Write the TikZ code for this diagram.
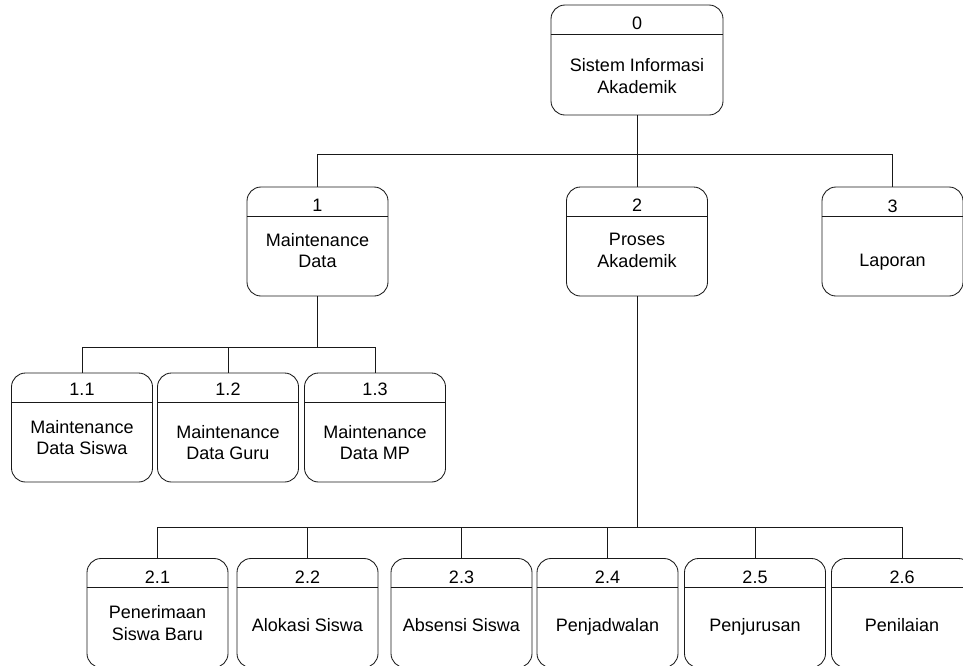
\documentclass[tikz,border=0pt]{standalone}
\usepackage{fontspec}
\setmainfont{Liberation Sans}
\usetikzlibrary{calc}
\begin{document}
\begin{tikzpicture}[x=1pt,y=-1pt,
  proc/.style={draw=black!90, line width=0.85pt, rounded corners=14pt, inner sep=0pt,
               minimum width=141pt, minimum height=109pt},
  divider/.style={draw=black!90, line width=0.85pt},
  link/.style={draw=black!90, line width=0.85pt},
  num/.style={inner sep=0pt, font=\fontsize{18}{21.5}\selectfont},
  txt/.style={inner sep=0pt, align=center, font=\fontsize{18}{21.5}\selectfont}]
\useasboundingbox (0,0) rectangle (963,665);
\clip (0,0) rectangle (963,665);

% level 0
\node[proc, minimum width=172pt, minimum height=110pt] (p0) at (637,60) {};
% level 1
\node[proc] (p1) at (317.5,241.5) {};
\node[proc] (p2) at (637,241.5) {};
\node[proc] (p3) at (892.5,241.5) {};
% children of 1
\node[proc] (p11) at (82,427.5) {};
\node[proc] (p12) at (228,427.5) {};
\node[proc] (p13) at (375,427.5) {};
% children of 2
\node[proc] (p21) at (157.5,613) {};
\node[proc] (p22) at (307.5,613) {};
\node[proc] (p23) at (461.5,613) {};
\node[proc] (p24) at (607.5,613) {};
\node[proc] (p25) at (755,613) {};
\node[proc] (p26) at (902,613) {};

% header dividers
\foreach \b in {p0,p1,p2,p3,p11,p12,p13,p21,p22,p23,p24,p25,p26}
  \draw[divider] ($(\b.north west)+(0,29.5)$) -- ($(\b.north east)+(0,29.5)$);

% numbers
\node[num] (n0) at (637,23) {0};
\node[num] (n1) at (317.5,205) {1};
\node[num] (n2) at (637,205) {2};
\node[num] (n3) at (892.5,206) {3};
\node[num] (n11) at (82,389) {1.1};
\node[num] (n12) at (228,389) {1.2};
\node[num] (n13) at (375,389) {1.3};
\node[num] (n21) at (157.5,577) {2.1};
\node[num] (n22) at (307.5,577) {2.2};
\node[num] (n23) at (461.5,577) {2.3};
\node[num] (n24) at (607.5,577) {2.4};
\node[num] (n25) at (755,577) {2.5};
\node[num] (n26) at (902,577) {2.6};

% process names
\node[txt] (t0) at (637,76) {Sistem Informasi\\Akademik};
\node[txt] (t1) at (317.5,250.5) {Maintenance\\Data};
\node[txt] (t2) at (637,250.5) {Proses\\Akademik};
\node[txt] (t3) at (892.5,262) {Laporan};
\node[txt] (t11) at (82,437.5) {Maintenance\\Data Siswa};
\node[txt] (t12) at (228,442.5) {Maintenance\\Data Guru};
\node[txt] (t13) at (375,442.5) {Maintenance\\Data MP};
\node[txt] (t21) at (157.5,623) {Penerimaan\\Siswa Baru};
\node[txt] (t22) at (307.5,625) {Alokasi Siswa};
\node[txt] (t23) at (461.5,625) {Absensi Siswa};
\node[txt] (t24) at (607.5,627) {Penjadwalan};
\node[txt] (t25) at (755,627) {Penjurusan};
\node[txt] (t26) at (902,625) {Penilaian};

% junction points of the tree
\coordinate (b0) at (637,154);
\coordinate (b1) at (317.5,347);
\coordinate (b2) at (637,527);

% connectors
\draw[link] (p0.south) -- (b0);
\draw[link] (b0) -| (p1.north);
\draw[link] (b0) -- (p2.north);
\draw[link] (b0) -| (p3.north);

\draw[link] (p1.south) -- (b1);
\draw[link] (b1) -| (p11.north);
\draw[link] (b1) -| (p12.north);
\draw[link] (b1) -| (p13.north);

\draw[link] (p2.south) -- (b2);
\draw[link] (b2) -| (p21.north);
\draw[link] (b2) -| (p22.north);
\draw[link] (b2) -| (p23.north);
\draw[link] (b2) -| (p24.north);
\draw[link] (b2) -| (p25.north);
\draw[link] (b2) -| (p26.north);
\end{tikzpicture}
\end{document}
